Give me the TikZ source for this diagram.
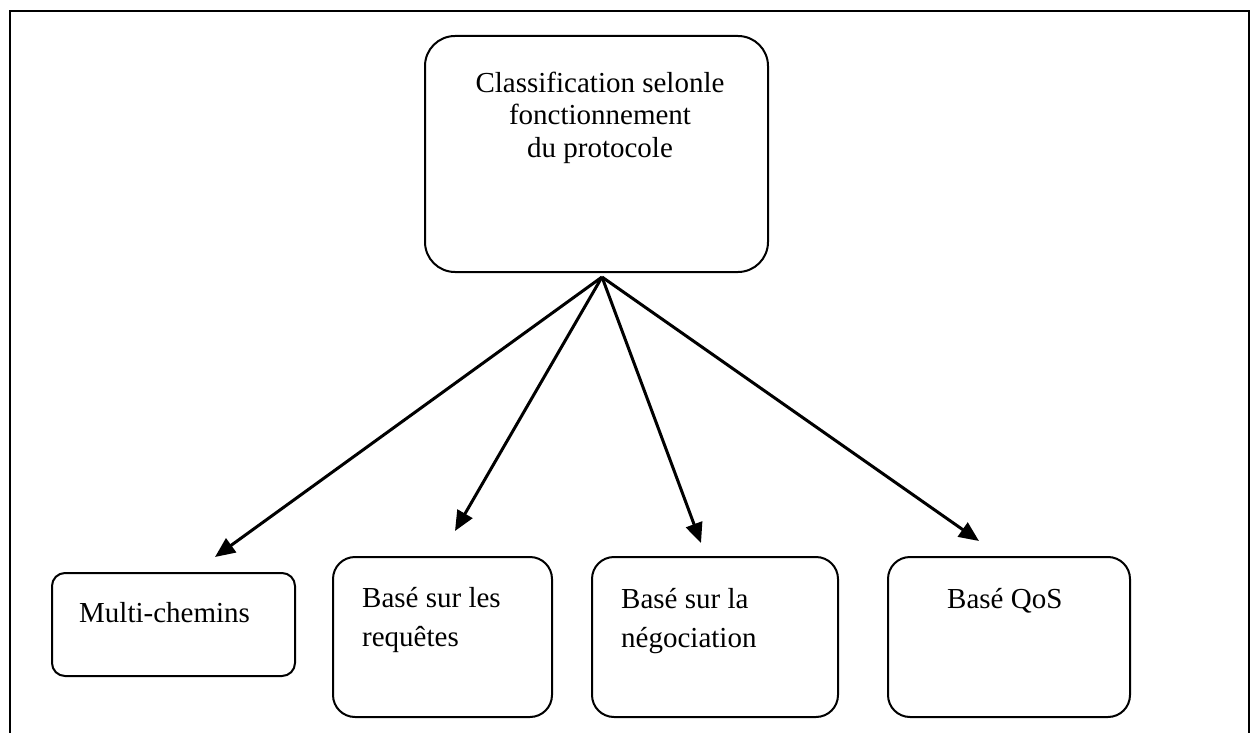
\documentclass[tikz,border=0pt]{standalone}
\usepackage{fontspec}
\setmainfont{Liberation Serif}
\usetikzlibrary{arrows.meta}

\tikzset{
  frame/.style={line width=2.2pt},
  bigbox/.style={draw, line width=2pt, rounded corners=30pt, inner sep=0pt},
  smallbox/.style={draw, line width=2pt, inner sep=0pt},
  txt/.style={inner sep=0pt, font=\fontsize{29}{33}\selectfont},
  leaftxt/.style={inner sep=0pt, align=left, font=\fontsize{29}{39}\selectfont},
  link/.style={line width=3pt, -{Triangle[length=20pt,width=17pt]}},
}

\begin{document}
\begin{tikzpicture}[x=1pt,y=-1pt]
  \useasboundingbox (0,0) rectangle (1256,733);

  % open frame round the chart
  \draw[frame] (10,733) -- (10,11) -- (1249,11) -- (1249,733);

  % root box (the base anchor of a multi-line node sits on its last line)
  \node[bigbox, minimum width=343pt, minimum height=236pt] (root) at (596.5,154) {};
  \node[txt, align=center, anchor=base] (roottxt) at (600,158)
    {Classification selonle\\fonctionnement\\du protocole};

  % leaf boxes
  \node[smallbox, rounded corners=13pt, minimum width=243pt, minimum height=103pt] (b1) at (173.5,624.5) {};
  \node[leaftxt, anchor=base west] (t1) at (79,622) {Multi-chemins};

  \node[smallbox, rounded corners=22pt, minimum width=219pt, minimum height=160pt] (b2) at (442.5,637) {};
  \node[leaftxt, anchor=base west] (t2) at (362,646) {Basé sur les\\requêtes};

  \node[smallbox, rounded corners=22pt, minimum width=246pt, minimum height=160pt] (b3) at (715,637) {};
  \node[leaftxt, anchor=base west] (t3) at (621,647) {Basé sur la\\négociation};

  \node[smallbox, rounded corners=22pt, minimum width=242pt, minimum height=160pt] (b4) at (1009,637) {};
  \node[leaftxt, anchor=base west] (t4) at (947,608) {Basé QoS};

  % fan of arrows
  \coordinate (hub) at (602,277);
  \coordinate (e1) at (215,557);
  \coordinate (e2) at (455,531);
  \coordinate (e3) at (701,543);
  \coordinate (e4) at (979,541);
  \draw[link] (hub) -- (e1);
  \draw[link] (hub) -- (e2);
  \draw[link] (hub) -- (e3);
  \draw[link] (hub) -- (e4);
\end{tikzpicture}
\end{document}
